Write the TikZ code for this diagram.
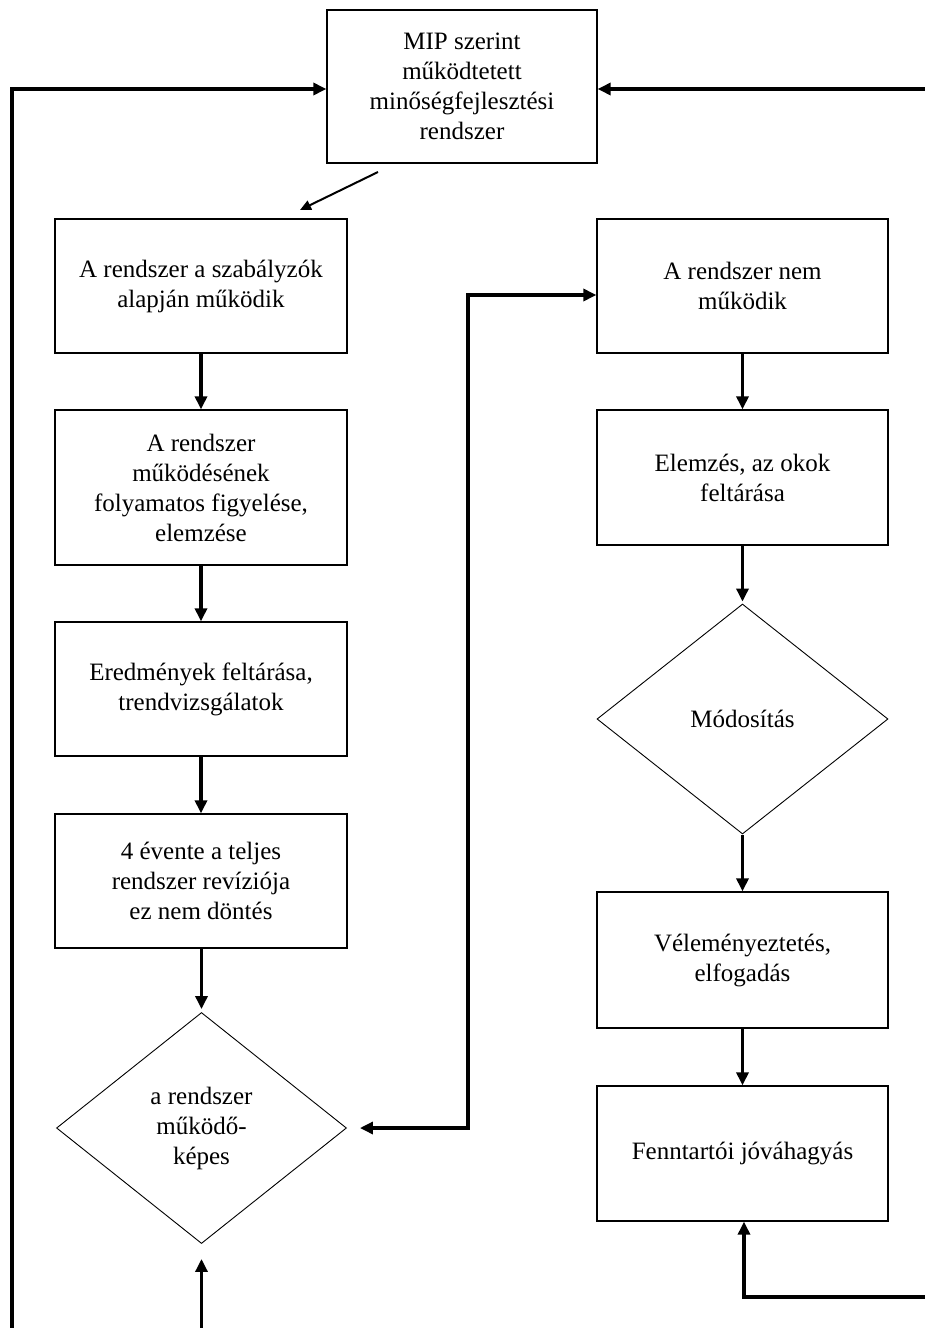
\documentclass[tikz,border=0pt]{standalone}
\usepackage{fontspec}
\setmainfont{Liberation Serif}
\usetikzlibrary{shapes.geometric,arrows.meta,calc}
\begin{document}
\begin{tikzpicture}[x=1pt,y=-1pt,
  txt/.style={align=center, inner sep=0pt, font=\fontsize{25}{30}\selectfont},
  box/.style={txt, draw, line width=1.3pt, rectangle},
  dia/.style={txt, draw, line width=0.9pt, diamond},
  arr/.style={line width=3.2pt, -{Triangle[length=13pt,width=12pt]}},
  darr/.style={line width=3.2pt, {Triangle[length=13pt,width=12pt]}-{Triangle[length=13pt,width=12pt]}},
  thinarr/.style={line width=2pt, -{Triangle[length=11pt,width=10pt]}}]
\useasboundingbox (0,0) rectangle (925,1328);
\fill[white] (0,0) rectangle (925,1328);

% top box
\node[box, minimum width=270pt, minimum height=153pt] (top) at (462,86.5)
  {MIP szerint\\működtetett\\minőségfejlesztési\\rendszer};

% left column
\node[box, minimum width=292pt, minimum height=134pt] (b1) at (201,286)
  {A rendszer a szabályzók\\alapján működik};
\node[box, minimum width=292pt, minimum height=155pt] (b2) at (201,487.5)
  {A rendszer\\működésének\\folyamatos figyelése,\\elemzése};
\node[box, minimum width=292pt, minimum height=134pt] (b3) at (201,689)
  {Eredmények feltárása,\\trendvizsgálatok};
\node[box, minimum width=292pt, minimum height=134pt] (b4) at (201,881)
  {4 évente a teljes\\rendszer revíziója\\ez nem döntés};
\node[dia, minimum width=290pt, minimum height=231pt] (dL) at (201.5,1128)
  {a rendszer\\működő-\\képes};

% right column
\node[box, minimum width=291pt, minimum height=134pt] (r1) at (742.5,286)
  {A rendszer nem\\működik};
\node[box, minimum width=291pt, minimum height=135pt] (r2) at (742.5,477.5)
  {Elemzés, az okok\\feltárása};
\node[dia, minimum width=291pt, minimum height=230pt] (dR) at (742.5,719)
  {Módosítás};
\node[box, minimum width=291pt, minimum height=136pt] (r3) at (742.5,960)
  {Véleményeztetés,\\elfogadás};
\node[box, minimum width=291pt, minimum height=135pt] (r4) at (742.5,1153.5)
  {Fenntartói jóváhagyás};

% free ends
\coordinate (lb) at (12,1328);
\coordinate (re) at (925,89);
\coordinate (bb) at (201.5,1328);
\coordinate (brc) at (925,1297);
\coordinate (mid) at (468,1128);
\coordinate (dgs) at (378,172);
\coordinate (dge) at (300,210);

% connectors
\draw[arr] (lb) |- ($(top.west)+(0,2.5)$);
\draw[arr] (re) -- ($(top.east)+(0,2.5)$);
\draw[thinarr] (dgs) -- (dge);

\draw[arr] (b1.south) -- (b2.north);
\draw[arr] (b2.south) -- (b3.north);
\draw[arr] (b3.south) -- (b4.north);
\draw[arr, shorten >=3pt] (b4.south -| dL.north) -- (dL.north);
\draw[arr, shorten >=15pt] (bb) -- (dL.south);

\draw[darr, shorten <=13pt] (dL.east) -- (mid) |- ($(r1.west)+(0,9)$);

\draw[arr] (r1.south) -- (r2.north);
\draw[arr, shorten >=2pt] (r2.south) -- (dR.north);
\draw[arr, shorten <=1pt] (dR.south) -- (r3.north);
\draw[arr] (r3.south) -- (r4.north);
\draw[arr] (brc) -| ($(r4.south)+(1.5,0)$);
\end{tikzpicture}
\end{document}
